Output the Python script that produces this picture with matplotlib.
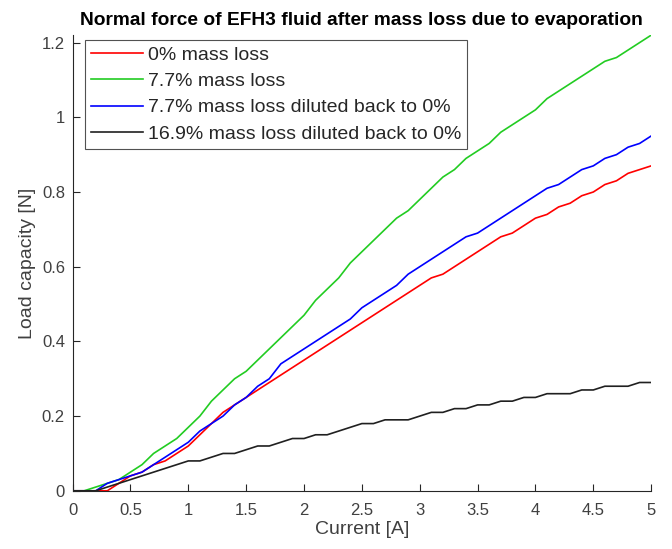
import matplotlib
matplotlib.use("Agg")
import matplotlib.pyplot as plt
import numpy as np
from matplotlib.ticker import FormatStrFormatter

plt.rcParams['font.family'] = ['Liberation Sans', 'DejaVu Sans']

# current steps 0 : 0.1 : 5 A
current = np.round(np.arange(0, 5.01, 0.1), 1)

load_0 = [0, 0, 0, 0, 0.02, 0.04, 0.05, 0.07, 0.08, 0.10,
          0.12, 0.15, 0.18, 0.21, 0.23, 0.25, 0.27, 0.29, 0.31, 0.33,
          0.35, 0.37, 0.39, 0.41, 0.43, 0.45, 0.47, 0.49, 0.51, 0.53,
          0.55, 0.57, 0.58, 0.60, 0.62, 0.64, 0.66, 0.68, 0.69, 0.71,
          0.73, 0.74, 0.76, 0.77, 0.79, 0.80, 0.82, 0.83, 0.85, 0.86,
          0.87]

load_77 = [0, 0, 0.01, 0.02, 0.03, 0.05, 0.07, 0.10, 0.12, 0.14,
           0.17, 0.20, 0.24, 0.27, 0.30, 0.32, 0.35, 0.38, 0.41, 0.44,
           0.47, 0.51, 0.54, 0.57, 0.61, 0.64, 0.67, 0.70, 0.73, 0.75,
           0.78, 0.81, 0.84, 0.86, 0.89, 0.91, 0.93, 0.96, 0.98, 1.00,
           1.02, 1.05, 1.07, 1.09, 1.11, 1.13, 1.15, 1.16, 1.18, 1.20,
           1.22]

load_77_dil = [0, 0, 0, 0.02, 0.03, 0.04, 0.05, 0.07, 0.09, 0.11,
               0.13, 0.16, 0.18, 0.20, 0.23, 0.25, 0.28, 0.30, 0.34, 0.36,
               0.38, 0.40, 0.42, 0.44, 0.46, 0.49, 0.51, 0.53, 0.55, 0.58,
               0.60, 0.62, 0.64, 0.66, 0.68, 0.69, 0.71, 0.73, 0.75, 0.77,
               0.79, 0.81, 0.82, 0.84, 0.86, 0.87, 0.89, 0.90, 0.92, 0.93,
               0.95]

load_169_dil = [0, 0, 0, 0.01, 0.02, 0.03, 0.04, 0.05, 0.06, 0.07,
                0.08, 0.08, 0.09, 0.10, 0.10, 0.11, 0.12, 0.12, 0.13, 0.14,
                0.14, 0.15, 0.15, 0.16, 0.17, 0.18, 0.18, 0.19, 0.19, 0.19,
                0.20, 0.21, 0.21, 0.22, 0.22, 0.23, 0.23, 0.24, 0.24, 0.25,
                0.25, 0.26, 0.26, 0.26, 0.27, 0.27, 0.28, 0.28, 0.28, 0.29,
                0.29]

labels = ['0% mass loss', '7.7% mass loss',
          '7.7% mass loss diluted back to 0%',
          '16.9% mass loss diluted back to 0%']

xticks = np.arange(0, 5.01, 0.5)
yticks = [0, 0.2, 0.4, 0.6, 0.8, 1.0, 1.2]

fig = plt.figure(figsize=(6.72, 5.49), dpi=100)
ax = fig.add_axes([0.108, 0.106, 0.861, 0.830])

ax.plot(current, load_0, color='#ff0000', lw=1.2, label=labels[0])
ax.plot(current, load_77, color='#22cc22', lw=1.2, label=labels[1])
ax.plot(current, load_77_dil, color='#0000ff', lw=1.2, label=labels[2])
ax.plot(current, load_169_dil, color='#202020', lw=1.2, label=labels[3])

ax.set_xlim(0, 5)
ax.set_ylim(0, 1.22)
ax.set_xticks(xticks)
ax.set_yticks(yticks)
ax.xaxis.set_major_formatter(FormatStrFormatter('%g'))
ax.yaxis.set_major_formatter(FormatStrFormatter('%g'))

gray = '#262626'
for s in ['top', 'right']:
    ax.spines[s].set_visible(False)
for s in ['left', 'bottom']:
    ax.spines[s].set_color(gray)
    ax.spines[s].set_linewidth(0.8)
ax.tick_params(direction='in', length=5, width=0.8, colors=gray,
               labelcolor='#404040', labelsize=12)
ax.tick_params(axis='x', pad=9)
ax.tick_params(axis='y', pad=5.5)

ax.set_xlabel('Current [A]', fontsize=14, color='#404040', labelpad=2)
ax.set_ylabel('Load capacity [N]', fontsize=14, color='#404040', labelpad=4)
ax.set_title('Normal force of EFH3 fluid after mass loss due to evaporation',
             fontsize=13.8, fontweight='bold', pad=7)

leg = ax.legend(loc='upper left', bbox_to_anchor=(0.021, 0.989),
                borderaxespad=0, fancybox=False, fontsize=14,
                handlelength=2.7, handletextpad=0.26, labelspacing=0.45,
                borderpad=0.3)
leg.get_frame().set_edgecolor(gray)
leg.get_frame().set_linewidth(0.8)
for t in leg.get_texts():
    t.set_color('#262626')

fig.savefig('out.png', dpi=100)
